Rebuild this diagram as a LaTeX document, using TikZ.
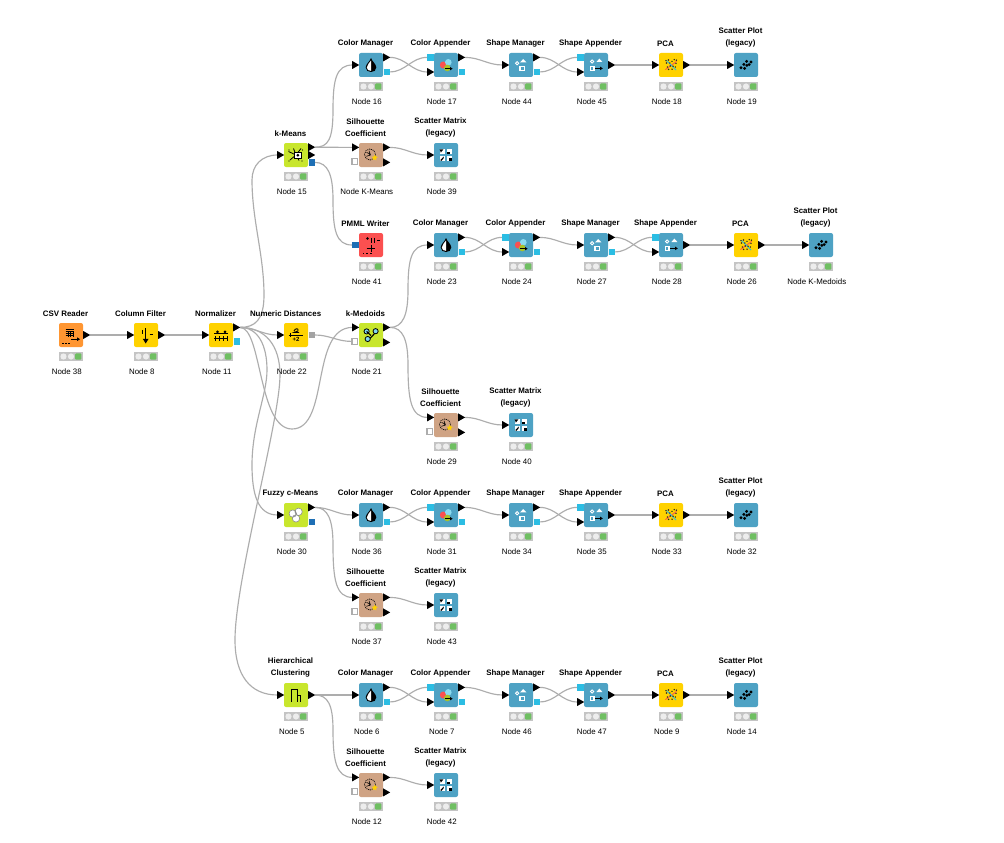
\documentclass[tikz,border=0pt]{standalone}
\usepackage{fontspec}
\setmainfont{Liberation Sans}
\usetikzlibrary{backgrounds}
\definecolor{cOrange}{HTML}{FF9632}
\definecolor{cYellow}{HTML}{FFD200}
\definecolor{cLime}{HTML}{C8E62D}
\definecolor{cBlue}{HTML}{4EA2C4}
\definecolor{cTan}{HTML}{CFA384}
\definecolor{cRed}{HTML}{FB5050}
\definecolor{cFlow}{HTML}{2BBDE3}
\definecolor{cModel}{HTML}{1E6FB5}
\definecolor{cDist}{HTML}{A3A3A3}
\definecolor{cWire}{HTML}{ADADAD}
\definecolor{cStat}{HTML}{C4C4C4}
\definecolor{cLamp}{HTML}{EDEDED}
\definecolor{cGreen}{HTML}{6FBF62}
\tikzset{
  kbox/.style={draw=none,rounded corners=2pt,minimum width=24pt,minimum height=24pt,inner sep=0pt},
  wire/.style={draw=cWire,line width=1.15pt},
  scurve/.style={out=0,in=180},
  toplab/.style={font=\bfseries\fontsize{7.9}{11.6}\selectfont,align=center,text=black,inner sep=0pt},
  botlab/.style={font=\fontsize{7.9}{10}\selectfont,text=black,inner sep=0pt},
}
% ---------- ports -------------
\newcommand\tin[3]{\fill[black] (#1.center) ++(-18.8,#3-4) -- ++(0,8) -- ++(7,-4) -- cycle;%
  \path (#1.center) ++(-18.5,#3) coordinate (#1#2);}
\newcommand\tout[3]{\fill[black] (#1.center) ++(12.2,#3-4) -- ++(0,8) -- ++(7,-4) -- cycle;%
  \path (#1.center) ++(19,#3) coordinate (#1#2);}
\newcommand\sqout[4]{\fill[#4] (#1.center) ++(12.5,#3-3.2) rectangle ++(6.6,6.6);%
  \path (#1.center) ++(19,#3) coordinate (#1#2);}
\newcommand\sqin[4]{\fill[#4] (#1.center) ++(-19.1,#3-3.2) rectangle ++(6.6,6.6);%
  \path (#1.center) ++(-19,#3) coordinate (#1#2);}
\newcommand\whitein[3]{\draw[cWire,fill=white,line width=1.1pt] (#1.center) ++(-19,#3-2.8) rectangle ++(5.8,5.8);%
  \path (#1.center) ++(-19.5,#3) coordinate (#1#2);}
% ---------- node -------------
\newcommand\knode[6]{%
  \node[kbox,fill=#4] (#1) at (#2,#3) {};
  \begin{scope}[shift={(#2,#3)}]
    \fill[cStat] (-12,17) rectangle (12,26);
    \fill[cLamp] (-7.5,21.5) circle (3.1);
    \fill[cLamp] (0,21.5) circle (3.1);
    \fill[cGreen,rounded corners=1pt] (4.2,18.3) rectangle (10.4,24.7);
    #5
  \end{scope}
  \node[botlab] (#1b) at (#2-4.2,#3+36.8) {#6};
}
\newcommand\tlab[4]{\node[toplab] (#1t) at (#2-5.5,#3-21.2) {#4};}
\newcommand\tlabb[5]{\node[toplab] (#1t) at (#2-5.5,#3-27.4) {#4\\#5};}
% ---------- icons -------------
\newcommand\iDrop{%
  \fill[black] (0,-7) .. controls (-1,-3.5) and (-5.3,-1) .. (-5.3,2.5) .. controls (-5.3,5.5) and (-2.8,7) .. (0,7) .. controls (2.8,7) and (5.3,5.5) .. (5.3,2.5) .. controls (5.3,-1) and (1,-3.5) .. (0,-7) -- cycle;
  \fill[white] (0,-4.4) .. controls (-1,-2.4) and (-4.2,-0.4) .. (-4.2,2.5) .. controls (-4.2,4.6) and (-2.3,5.8) .. (0,5.9) -- cycle;}
\newcommand\iAppend{%
  \fill[cRed] (-2.7,0) circle (3.5);
  \fill[cFlow!55!white] (2.3,-2.7) circle (3.3);
  \fill[cLime!85!black] (1.3,3) circle (3.3);
  \draw[black,line width=0.9pt] (-1,3.7) -- (5,3.7);
  \fill[black] (6.6,3.7) -- (4,2) -- (4,5.4) -- cycle;}
\newcommand\iShape{%
  \fill[white] (-1,-2.6) -- (2.2,-6) -- (5.4,-2.6) -- cycle;
  \draw[white,line width=0.9pt] (-3.9,-1.8) circle (1.6);
  \fill[white] (-1.6,0.6) rectangle (4.2,6.2);
  \fill[cBlue] (-0.4,1.8) rectangle (3,5);}
\newcommand\iShapeAp{%
  \fill[white] (0.4,-3) -- (3.4,-6.4) -- (6.4,-3) -- cycle;
  \draw[white,line width=0.9pt] (-3.9,-3.5) circle (1.6);
  \fill[white] (-6.4,1.2) rectangle (-1.4,6.2);
  \fill[cBlue] (-5.2,2.4) rectangle (-2.6,5);
  \draw[black,line width=0.9pt] (-1,3.4) -- (5,3.4);
  \fill[black] (6.8,3.4) -- (4.2,1.7) -- (4.2,5.1) -- cycle;}
\newcommand\iPCA{%
  \draw[cRed,line width=0.8pt] (-5.6,4.6) -- (5.6,-3.6);
  \draw[cFlow,line width=0.8pt] (-4.6,-4.6) -- (5,5);
  \foreach \p/\q in {-4.5/-2,-2.5/-5,-1.2/-2,1/-3.6,3.2/-5.4,5/-1.6,-3.6/2,-0.8/1,2/1.2,4.4/2,-2.4/4.4,1/4.2,-5/-4.4,5.4/-4.8}{\fill[black!85] (\p,\q) circle (0.8);}}
\newcommand\iDots{%
  \foreach \p/\q in {-5/2.8,-2.2/-0.6,-1.4/3.4,0.6/-3.6,3.2/-0.4,0.9/0.4,5/-3}{\fill[black] (\p,\q) circle (1.6);}}
\newcommand\iMatrix{%
  \foreach \sx/\sy in {-1/-1,1/-1,-1/1,1/1}{\fill[white] (\sx*3.6-2.7,\sy*3.6-2.7) rectangle ++(5.4,5.4);}
  \fill[black] (-6.3,-5.6) -- (-2.6,-5.6) -- (-5.2,-2.4) -- cycle;
  \fill[black] (1.4,-3.4) rectangle ++(2.2,2.2);
  \fill[black] (-5.8,5.2) -- (-2.4,1.6) -- (-2.2,3) -- (-4.4,5.8) -- cycle;
  \fill[black] (3.2,3.2) rectangle ++(2.6,2.6);}
\newcommand\iSil{%
  \draw[black,line width=0.7pt,dash pattern=on 1pt off 0.9pt] (-1,-0.5) circle (5.6);
  \draw[black,line width=0.6pt] (-4.4,-2.6) -- (-1,-1) (-4.6,1.3) -- (-1,0.2) (-2,-4.2) -- (-0.8,-1);
  \fill[black] (-1,-0.3) circle (0.9);
  \fill[cYellow] (3,1.5) -- (3.8,-0.6) -- (4.8,1.4) -- (6.8,2) -- (5,3.2) -- (5.4,5.4) -- (3.4,4.2) -- (1.6,5.2) -- (2,3.2) -- (0.6,1.8) -- cycle;}
\newcommand\iCSV{%
  \foreach \q in {-6,-3.8,-1.6,0.6}{\draw[black,line width=0.6pt] (-5.5,\q) -- (2.5,\q);}
  \foreach \p in {-3.2,-0.6,1.8}{\draw[black,line width=0.6pt] (\p,-3.8) -- (\p,2);}
  \draw[black,line width=0.9pt] (0,4.2) -- (7,4.2);
  \fill[black] (9,4.2) -- (6.2,2.4) -- (6.2,6) -- cycle;
  \foreach \p in {-9,-6,-3}{\fill[black] (\p,7.6) rectangle ++(1.6,1);}}
\newcommand\iFilter{%
  \draw[black,line width=1.3pt] (-0.3,-7) -- (-0.3,5);
  \fill[black] (-0.3,8.5) -- (-3.2,3.8) -- (2.6,3.8) -- cycle;
  \draw[black,line width=0.9pt] (-4,-5) -- (-4,-1) (3.5,-1) -- (6.5,-1);}
\newcommand\iNorm{%
  \draw[black,line width=0.9pt] (-7,-1.8) -- (7,-1.8) (-7,3.4) -- (7,3.4);
  \fill[black] (-3.5,-3.2) circle (1.5) (4,-3.2) circle (1.5);
  \draw[black,line width=0.8pt] (-5.5,1) -- (-5.5,5.5) (-1.5,1) -- (-1.5,5.5) (2,1) -- (2,5.5) (6,1) -- (6,5.5);}
\newcommand\iDist{%
  \draw[black,line width=0.9pt] (-7.5,0) -- (7,0);
  \draw[black,line width=0.9pt] (-2,-4) .. controls (-1,-7) and (3,-7) .. (2,-4) -- (-2,-2.5) -- (3,-2.5);
  \node[font=\bfseries\fontsize{6}{6}\selectfont,inner sep=0pt] at (0,4.6) {+2};
  \draw[black,line width=0.9pt] (-6,-2.2) -- (-6,2.2);}
\newcommand\iKmeans{%
  \draw[black,line width=0.8pt] (-7.5,-3.5) -- (0,0) -- (-6,5) (0,0) -- (5,-6.5) (0,0) -- (-2.5,-6.5) (0,0) -- (3,5.5);
  \fill[white] (-1.5,-2.6) rectangle (5,3);
  \draw[black,line width=1pt] (-1.5,-2.6) rectangle (5,3);
  \fill[black] (1.8,0.2) circle (1.5);
  \foreach \p/\q in {-7/-5,6.5/-5,-7/6,6/6}{\fill[black] (\p,\q) circle (0.7);}}
\newcommand\iKmed{%
  \draw[black,line width=1.1pt] (-2,4.5) -- (6,-4);
  \draw[black,fill=cFlow!60!white,line width=0.8pt] (-4.4,-3.6) circle (2.6);
  \draw[black,fill=cFlow!60!white,line width=0.8pt] (4.6,-3.8) circle (2.6);
  \draw[black,fill=cFlow!60!white,line width=0.8pt] (-3.3,4) circle (2.6);
  \draw[black,line width=1.1pt] (-4.4,-3.6) -- (0,0.5);}
\newcommand\iFuzzy{%
  \fill[white] (-3.2,-1.4) circle (3.7);
  \fill[white] (2.6,-3.2) circle (3.7);
  \fill[white] (0,3.4) circle (3.7);
  \draw[black!45,line width=0.6pt] (-3.2,-1.4) circle (3.7) (2.6,-3.2) circle (3.7) (0,3.4) circle (3.7);}
\newcommand\iHier{%
  \draw[black,line width=1pt] (-5,7) -- (-5,-6) -- (1.6,-6) -- (1.6,7);
  \draw[black,line width=1pt] (1.6,0.5) -- (4.8,0.5) -- (4.8,7);}
\newcommand\iPMML{%
  \draw[black,line width=0.8pt] (-3.5,-6.5) circle (0.9);
  \draw[black,line width=1pt] (0.3,-7.5) -- (0.3,-2.5) (3.6,-7.5) -- (3.6,-2.5) (6,-4.5) -- (9,-4.5);
  \draw[black,line width=1pt] (-4.5,3.5) -- (4,3.5);
  \draw[black,line width=1pt] (0,-0.5) -- (0,7);
  \foreach \p in {-8.5,-4.6,-0.8}{\fill[black] (\p,8.4) rectangle ++(1.6,1);}}
\begin{document}
\begin{tikzpicture}[x=1pt,y=-1pt]
\useasboundingbox (0,0) rectangle (1004,843);

% ====== source chain ======
\knode{n38}{71}{335}{cOrange}{\iCSV}{Node 38}\tlab{n38}{71}{335}{CSV Reader}
\tout{n38}{o}{0}
\knode{n8}{146}{335}{cYellow}{\iFilter}{Node 8}\tlab{n8}{146}{335}{Column Filter}
\tin{n8}{i}{0}\tout{n8}{o}{0}
\knode{n11}{221}{335}{cYellow}{\iNorm}{Node 11}\tlab{n11}{221}{335}{Normalizer}
\tin{n11}{i}{0}\tout{n11}{o}{-7.6}\sqout{n11}{f}{6.6}{cFlow}
\knode{n22}{296}{335}{cYellow}{\iDist}{Node 22}\node[toplab] (n22t) at (285.6,313.8) {Numeric Distances};
\tin{n22}{i}{0}\sqout{n22}{o}{0}{cDist}
\knode{n21}{371}{335}{cLime}{\iKmed}{Node 21}\tlab{n21}{371}{335}{k-Medoids}
\tin{n21}{i}{-7.6}\whitein{n21}{d}{6.4}\tout{n21}{o}{-7.6}\tout{n21}{p}{7.4}

% ====== k-Means ======
\knode{n15}{296}{155}{cLime}{\iKmeans}{Node 15}\tlab{n15}{296}{155}{k-Means}
\tin{n15}{i}{0}\tout{n15}{o}{-7.8}\tout{n15}{p}{0}\sqout{n15}{m}{7.4}{cModel}
\knode{n16}{371}{65}{cBlue}{\iDrop}{Node 16}\tlab{n16}{371}{65}{Color Manager}
\knode{n17}{446}{65}{cBlue}{\iAppend}{Node 17}\tlab{n17}{446}{65}{Color Appender}
\knode{n44}{521}{65}{cBlue}{\iShape}{Node 44}\tlab{n44}{521}{65}{Shape Manager}
\knode{n45}{596}{65}{cBlue}{\iShapeAp}{Node 45}\tlab{n45}{596}{65}{Shape Appender}
\knode{n18}{671}{65}{cYellow}{\iPCA}{Node 18}\tlab{n18}{671}{65}{PCA}
\knode{n19}{746}{65}{cBlue}{\iDots}{Node 19}\tlabb{n19}{746}{65}{Scatter Plot}{(legacy)}
\knode{nKM}{371}{155}{cTan}{\iSil}{Node K-Means}\tlabb{nKM}{371}{155}{Silhouette}{Coefficient}
\knode{n39}{446}{155}{cBlue}{\iMatrix}{Node 39}\tlabb{n39}{446}{155}{Scatter Matrix}{(legacy)}
\knode{n41}{371}{245}{cRed}{\iPMML}{Node 41}\tlab{n41}{371}{245}{PMML Writer}
\sqin{n41}{m}{0}{cModel}

% ====== k-Medoids ======
\knode{n23}{446}{245}{cBlue}{\iDrop}{Node 23}\tlab{n23}{446}{245}{Color Manager}
\knode{n24}{521}{245}{cBlue}{\iAppend}{Node 24}\tlab{n24}{521}{245}{Color Appender}
\knode{n27}{596}{245}{cBlue}{\iShape}{Node 27}\tlab{n27}{596}{245}{Shape Manager}
\knode{n28}{671}{245}{cBlue}{\iShapeAp}{Node 28}\tlab{n28}{671}{245}{Shape Appender}
\knode{n26}{746}{245}{cYellow}{\iPCA}{Node 26}\tlab{n26}{746}{245}{PCA}
\knode{nKD}{821}{245}{cBlue}{\iDots}{Node K-Medoids}\tlabb{nKD}{821}{245}{Scatter Plot}{(legacy)}
\knode{n29}{446}{425}{cTan}{\iSil}{Node 29}\tlabb{n29}{446}{425}{Silhouette}{Coefficient}
\knode{n40}{521}{425}{cBlue}{\iMatrix}{Node 40}\tlabb{n40}{521}{425}{Scatter Matrix}{(legacy)}

% ====== Fuzzy ======
\knode{n30}{296}{515}{cLime}{\iFuzzy}{Node 30}\tlab{n30}{296}{515}{Fuzzy c-Means}
\tin{n30}{i}{0}\tout{n30}{o}{-7.6}\sqout{n30}{m}{7}{cModel}
\knode{n36}{371}{515}{cBlue}{\iDrop}{Node 36}\tlab{n36}{371}{515}{Color Manager}
\knode{n31}{446}{515}{cBlue}{\iAppend}{Node 31}\tlab{n31}{446}{515}{Color Appender}
\knode{n34}{521}{515}{cBlue}{\iShape}{Node 34}\tlab{n34}{521}{515}{Shape Manager}
\knode{n35}{596}{515}{cBlue}{\iShapeAp}{Node 35}\tlab{n35}{596}{515}{Shape Appender}
\knode{n33}{671}{515}{cYellow}{\iPCA}{Node 33}\tlab{n33}{671}{515}{PCA}
\knode{n32}{746}{515}{cBlue}{\iDots}{Node 32}\tlabb{n32}{746}{515}{Scatter Plot}{(legacy)}
\knode{n37}{371}{605}{cTan}{\iSil}{Node 37}\tlabb{n37}{371}{605}{Silhouette}{Coefficient}
\knode{n43}{446}{605}{cBlue}{\iMatrix}{Node 43}\tlabb{n43}{446}{605}{Scatter Matrix}{(legacy)}

% ====== Hierarchical ======
\knode{n5}{296}{695}{cLime}{\iHier}{Node 5}\tlabb{n5}{296}{695}{Hierarchical}{Clustering}
\tin{n5}{i}{0}\tout{n5}{o}{0}
\knode{n6}{371}{695}{cBlue}{\iDrop}{Node 6}\tlab{n6}{371}{695}{Color Manager}
\knode{n7}{446}{695}{cBlue}{\iAppend}{Node 7}\tlab{n7}{446}{695}{Color Appender}
\knode{n46}{521}{695}{cBlue}{\iShape}{Node 46}\tlab{n46}{521}{695}{Shape Manager}
\knode{n47}{596}{695}{cBlue}{\iShapeAp}{Node 47}\tlab{n47}{596}{695}{Shape Appender}
\knode{n9}{671}{695}{cYellow}{\iPCA}{Node 9}\tlab{n9}{671}{695}{PCA}
\knode{n14}{746}{695}{cBlue}{\iDots}{Node 14}\tlabb{n14}{746}{695}{Scatter Plot}{(legacy)}
\knode{n12}{371}{785}{cTan}{\iSil}{Node 12}\tlabb{n12}{371}{785}{Silhouette}{Coefficient}
\knode{n42}{446}{785}{cBlue}{\iMatrix}{Node 42}\tlabb{n42}{446}{785}{Scatter Matrix}{(legacy)}

% ====== ports of repeated node kinds ======
\foreach \a in {n16,n23,n36,n6,n44,n27,n34,n46}{\tin{\a}{i}{0}\tout{\a}{o}{-7.6}\sqout{\a}{f}{6.9}{cFlow}}
\foreach \a in {n17,n24,n31,n7}{\sqin{\a}{f}{-7.6}{cFlow}\tin{\a}{i}{7}\tout{\a}{o}{-7.6}\sqout{\a}{g}{6.9}{cFlow}}
\foreach \a in {n45,n28,n35,n47}{\sqin{\a}{f}{-7.6}{cFlow}\tin{\a}{i}{7}\tout{\a}{o}{0}}
\foreach \a in {n18,n26,n33,n9}{\tin{\a}{i}{0}\tout{\a}{o}{0}}
\foreach \a in {n19,nKD,n32,n14,n39,n40,n43,n42}{\tin{\a}{i}{0}}
\foreach \a in {nKM,n29,n37,n12}{\tin{\a}{i}{-7.6}\whitein{\a}{d}{6.4}\tout{\a}{o}{-7.6}\tout{\a}{p}{7.4}}

% ====== connectors ======
\begin{pgfonlayer}{background}
\fill[white] (0,0) rectangle (1004,843);
\draw[wire] (n38o) -- (n8i);
\draw[wire] (n8o) -- (n11i);
\draw[wire] (n11o) to[scurve] (n22i);
\draw[wire] (n22o) to[scurve] (n21d);
% Normalizer fan-out
\draw[wire] (n11o) .. controls (255,327.4) and (264,320) .. (264,295)
   .. controls (264,255) and (252,220) .. (252,180)
   .. controls (252,165) and (262,155) .. (n15i);
\draw[wire] (n11o) .. controls (262,327.4) and (258,429) .. (292,429)
   .. controls (330,429) and (310,327.4) .. (n21i);
\draw[wire] (n11o) .. controls (258,327.4) and (267,345) .. (267,370)
   .. controls (267,395) and (252,425) .. (252,465)
   .. controls (252,495) and (258,515) .. (n30i);
\draw[wire] (n11o) .. controls (265,327.4) and (280,345) .. (280,375)
   .. controls (280,420) and (235,580) .. (235,640)
   .. controls (235,675) and (250,695) .. (n5i);
% k-Means
\draw[wire] (n15o) .. controls (328,147.2) and (333,140) .. (333,110)
   .. controls (333,80) and (336,65) .. (n16i);
\draw[wire] (n15o) -- (nKMi);
\draw[wire] (n15m) .. controls (328,162.4) and (333,175) .. (333,200)
   .. controls (333,230) and (336,245) .. (n41m);
\draw[wire] (nKMo) to[scurve] (n39i);
% k-Medoids
\draw[wire] (n21o) .. controls (403,327.4) and (408,315) .. (408,290)
   .. controls (408,260) and (411,245) .. (n23i);
\draw[wire] (n21o) .. controls (403,327.4) and (408,340) .. (408,365)
   .. controls (408,400) and (411,417.4) .. (n29i);
\draw[wire] (n29o) to[scurve] (n40i);
% Fuzzy
\draw[wire] (n30o) to[scurve] (n36i);
\draw[wire] (n30o) .. controls (328,507.4) and (333,520) .. (333,545)
   .. controls (333,580) and (336,597.4) .. (n37i);
\draw[wire] (n37o) to[scurve] (n43i);
% Hierarchical
\draw[wire] (n5o) -- (n6i);
\draw[wire] (n5o) .. controls (328,695) and (333,705) .. (333,730)
   .. controls (333,760) and (336,777.4) .. (n12i);
\draw[wire] (n12o) to[scurve] (n42i);
% the four colour/shape chains
\foreach \cm/\ca/\sm/\sa/\pc/\pl in {n16/n17/n44/n45/n18/n19,n23/n24/n27/n28/n26/nKD,n36/n31/n34/n35/n33/n32,n6/n7/n46/n47/n9/n14}{
  \draw[wire] (\cm o) to[scurve] (\ca i);
  \draw[wire] (\cm f) to[scurve] (\ca f);
  \draw[wire] (\ca o) to[scurve] (\sm i);
  \draw[wire] (\sm o) to[scurve] (\sa i);
  \draw[wire] (\sm f) to[scurve] (\sa f);
  \draw[wire] (\sa o) -- (\pc i);
  \draw[wire] (\pc o) -- (\pl i);
}
\end{pgfonlayer}
\end{tikzpicture}
\end{document}
